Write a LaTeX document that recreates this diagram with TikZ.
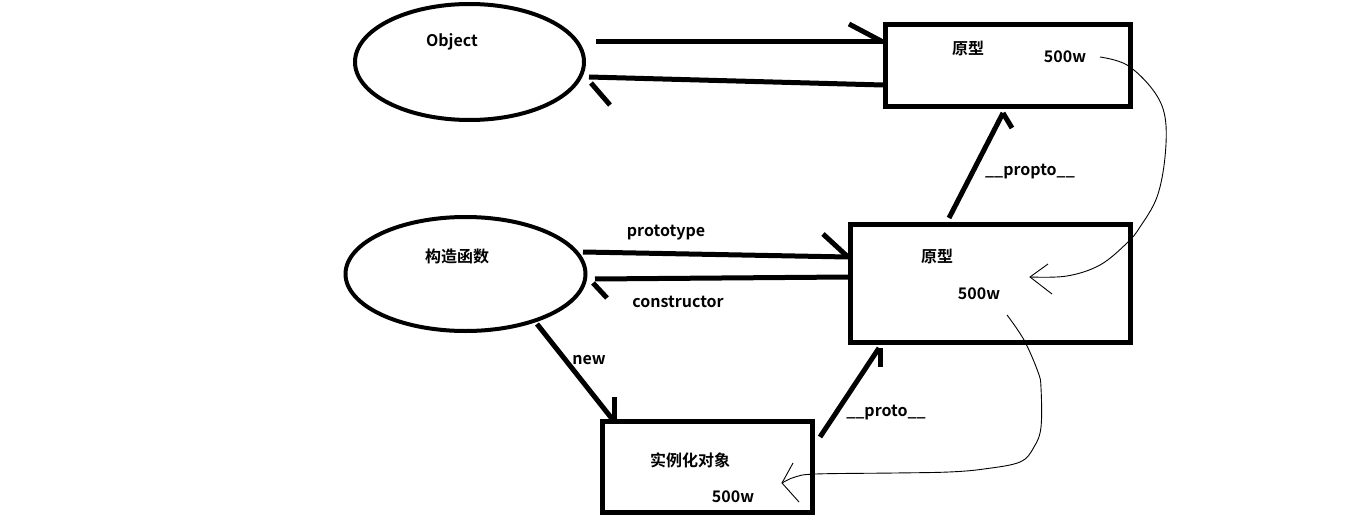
\documentclass[tikz,border=0pt]{standalone}
\usepackage{fontspec}
\setmainfont{Noto Sans CJK SC}[BoldFont={Noto Sans CJK SC Bold}]
\usetikzlibrary{shapes.geometric}
\tikzset{
  oval/.style={draw, ellipse, line width=4pt, inner sep=0pt},
  frame/.style={draw, rectangle, line width=5pt, inner sep=0pt},
  txt/.style={font=\fontsize{16}{18}\selectfont\bfseries, inner sep=0pt},
  thickarrow/.style={line width=5pt},
  thinline/.style={line width=0.9pt},
}
\begin{document}
\begin{tikzpicture}[x=1pt,y=-1pt]
\useasboundingbox[fill=white] (0,0) rectangle (1349,532);
% shapes
\node[oval, minimum width=229, minimum height=116] (obj) at (469.5,62) {};
\node[oval, minimum width=240, minimum height=114] (ctor) at (465.5,274) {};
\node[frame, minimum width=245, minimum height=82] (proto1) at (1008,65.5) {};
\node[frame, minimum width=280, minimum height=118] (proto2) at (990.5,283.5) {};
\node[frame, minimum width=210, minimum height=91] (inst) at (707.5,467) {};
% texts
\node[txt] (tobj) at (452,42) {Object};
\node[txt] (tp1) at (968,49) {原型};
\node[txt] (tp1w) at (1065,57) {500w};
\node[txt] (tctor) at (457,256) {构造函数};
\node[txt] (tprototype) at (666,233) {prototype};
\node[txt] (tconstructor) at (678,302) {constructor};
\node[txt] (tp2) at (937,257) {原型};
\node[txt] (tp2w) at (979,294) {500w};
\node[txt] (tpropto) at (1030,172) {\_\_propto\_\_};
\node[txt] (tproto) at (886,413) {\_\_proto\_\_};
\node[txt] (tnew) at (589,360) {new};
\node[txt] (tinst) at (690,460) {实例化对象};
\node[txt] (tinstw) at (733,497) {500w};
% coordinates of connector ends
\coordinate (a1s) at (596,42);
\coordinate (a1e) at (proto1.west |- 0,42);
\coordinate (a2s) at (proto1.west |- 0,85);
\coordinate (a2e) at (589,77);
\coordinate (a3s) at (583,252);
\coordinate (a3e) at (proto2.west |- 0,257);
\coordinate (a4s) at (proto2.west |- 0,277);
\coordinate (a4e) at (595,279);
\coordinate (a5s) at (949,218);
\coordinate (a5e) at (1003,113);
\coordinate (a6s) at (820,437);
\coordinate (a6e) at (879,348);
\coordinate (a7s) at (537,324);
\coordinate (a7e) at (613,420);
% thick connectors with single barbs
\draw[thickarrow] (a1s) -- (a1e);
\draw[thickarrow] (849,24) -- (a1e);
\draw[thickarrow] (a2s) -- (a2e);
\draw[thickarrow] (591,83) -- (610,105);
\draw[thickarrow] (a3s) -- (a3e);
\draw[thickarrow] (823,234) -- (a3e);
\draw[thickarrow] (a4s) -- (a4e);
\draw[thickarrow] (593,283) -- (607,298);
\draw[thickarrow] (a5s) -- (a5e);
\draw[thickarrow] (a5e) -- (1012,128);
\draw[thickarrow] (a6s) -- (a6e);
\draw[thickarrow] (880,348) -- (880,367);
\draw[thickarrow] (a7s) -- (a7e);
\draw[thickarrow] (614,397) -- (614,422);
% thin hand-drawn curves
\draw[thinline] plot[smooth, tension=0.6] coordinates {(1100,57) (1127,65) (1153,90) (1165,117) (1165,157) (1157,197) (1140,227) (1127,243) (1100,265) (1067,276) (1030,277)};
\draw[thinline] (1048,264) -- (1030,277) -- (1052,294);
\draw[thinline] plot[smooth, tension=0.6] coordinates {(1007,315) (1024,340) (1038,372) (1041,388) (1041,427) (1034,447) (1020,462) (984,469) (949,472) (895,473) (816,474) (795,477) (782,483)};
\draw[thinline] (793,463) -- (782,483) -- (799,502);
\end{tikzpicture}
\end{document}
